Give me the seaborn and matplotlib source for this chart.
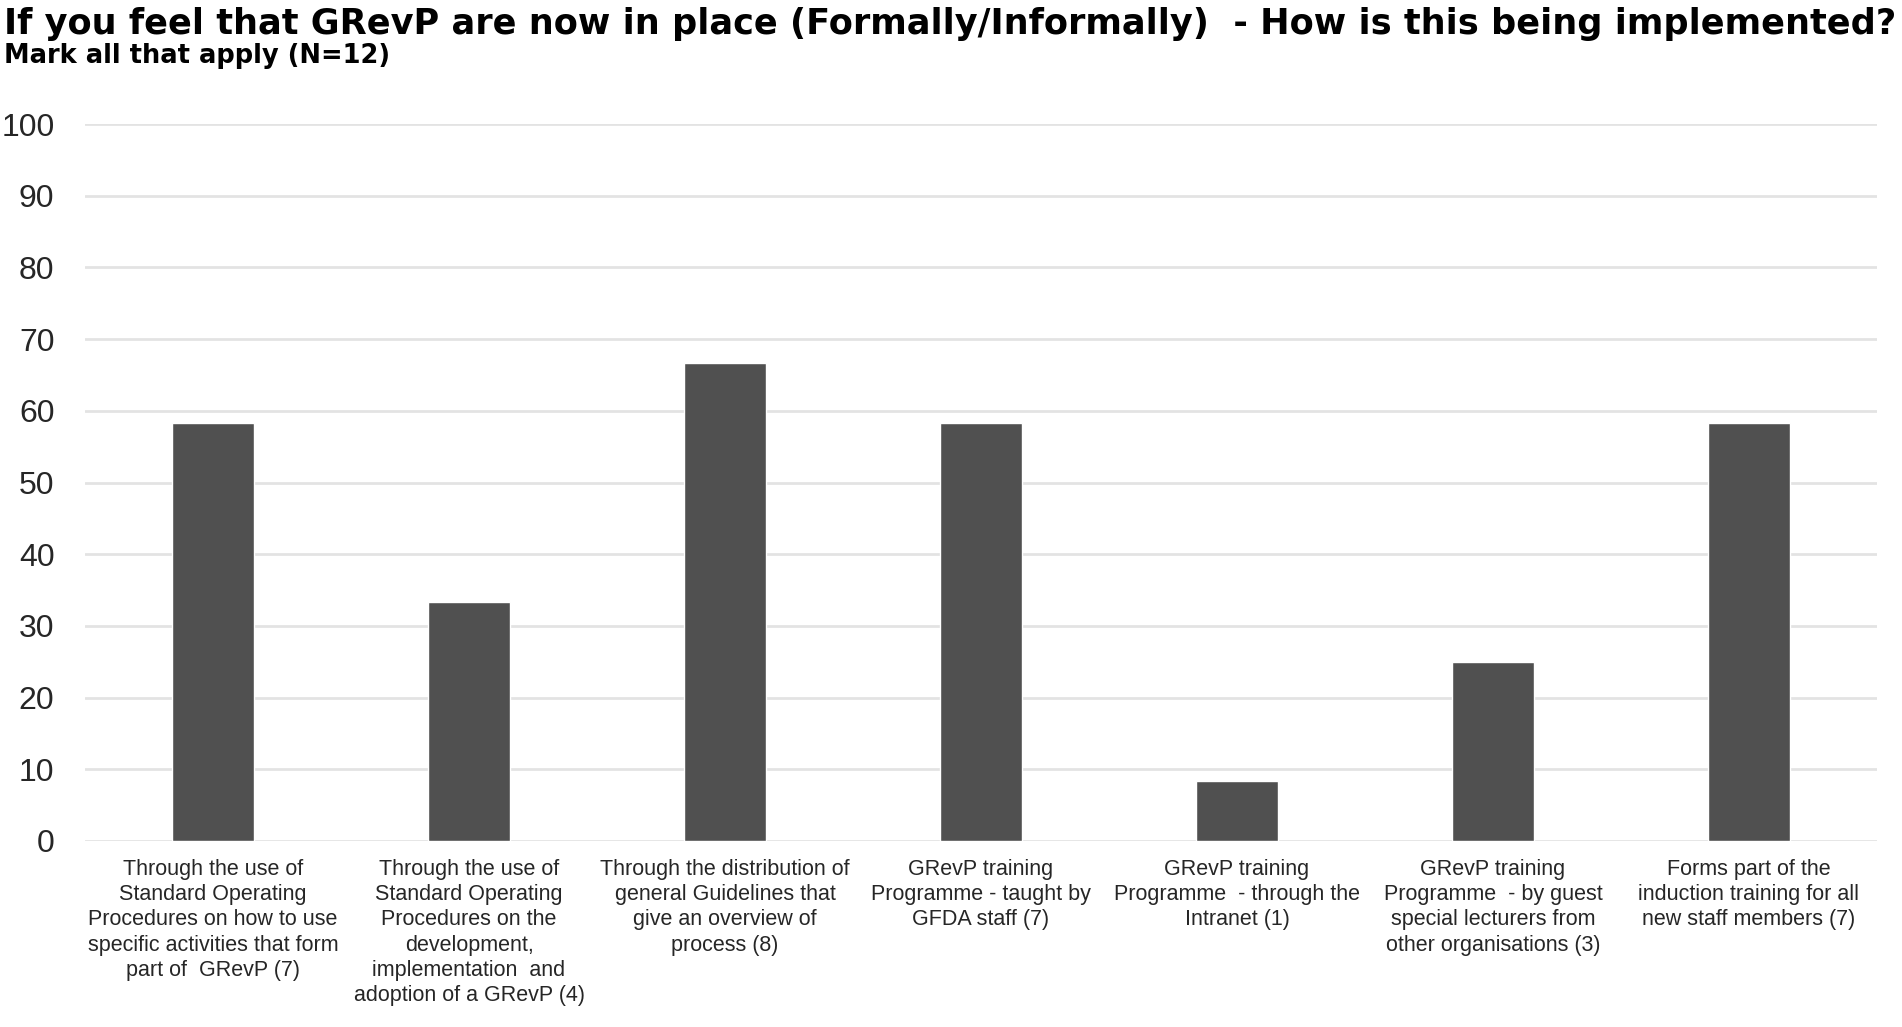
import matplotlib
matplotlib.use("Agg")
import matplotlib.pyplot as plt
import seaborn as sns
import pandas as pd

categories = [
    "Through the use of\nStandard Operating\nProcedures on how to use\nspecific activities that form\npart of  GRevP (7)",
    "Through the use of\nStandard Operating\nProcedures on the\ndevelopment,\nimplementation  and\nadoption of a GRevP (4)",
    "Through the distribution of\ngeneral Guidelines that\ngive an overview of\nprocess (8)",
    "GRevP training\nProgramme - taught by\nGFDA staff (7)",
    "GRevP training\nProgramme  - through the\nIntranet (1)",
    "GRevP training\nProgramme  - by guest\nspecial lecturers from\nother organisations (3)",
    "Forms part of the\ninduction training for all\nnew staff members (7)",
]
values = [58.33, 33.33, 66.67, 58.33, 8.33, 25.0, 58.33]
yticks = [0, 10, 20, 30, 40, 50, 60, 70, 80, 90, 100]
title = "If you feel that GRevP are now in place (Formally/Informally)  - How is this being implemented?"
subtitle = "Mark all that apply (N=12)"

sns.set_theme(style="white")
plt.rcParams['font.family'] = ['Liberation Sans', 'DejaVu Sans']

df = pd.DataFrame({"cat": categories, "val": values})

fig = plt.figure(figsize=(19.02, 10.27), dpi=100)
ax = fig.add_axes([85/1902, 1 - 841/1027, (1877-85)/1902, (841-124)/1027])
sns.barplot(data=df, x="cat", y="val", color="#505050", saturation=1, width=0.32, ax=ax, zorder=3)

ax.set_ylim(0, 100)
ax.set_yticks(yticks)
ax.set_yticklabels([str(t) for t in yticks], fontsize=23)
ax.yaxis.grid(True, color="#e3e3e3", linewidth=2, zorder=0)
ax.set_axisbelow(True)
for s in ax.spines.values():
    s.set_visible(False)
ax.tick_params(axis="y", length=0, pad=22)
ax.tick_params(axis="x", length=0, pad=13)
ax.set_xticks(range(len(categories)))
ax.set_xticklabels(categories, fontsize=15.5, linespacing=1.26)
ax.set_xlabel("")
ax.set_ylabel("")
ax.set_xlim(-0.5, len(categories) - 0.5)

fig.text(0.002, 1 - 7/1027, title, fontsize=25.3, fontweight="bold", family="DejaVu Sans",
         ha="left", va="top", color="black")
fig.text(0.002, 1 - 43/1027, subtitle, fontsize=18.5, fontweight="bold", family="DejaVu Sans",
         ha="left", va="top", color="black")

fig.savefig("out.png", dpi=100, facecolor="white")
